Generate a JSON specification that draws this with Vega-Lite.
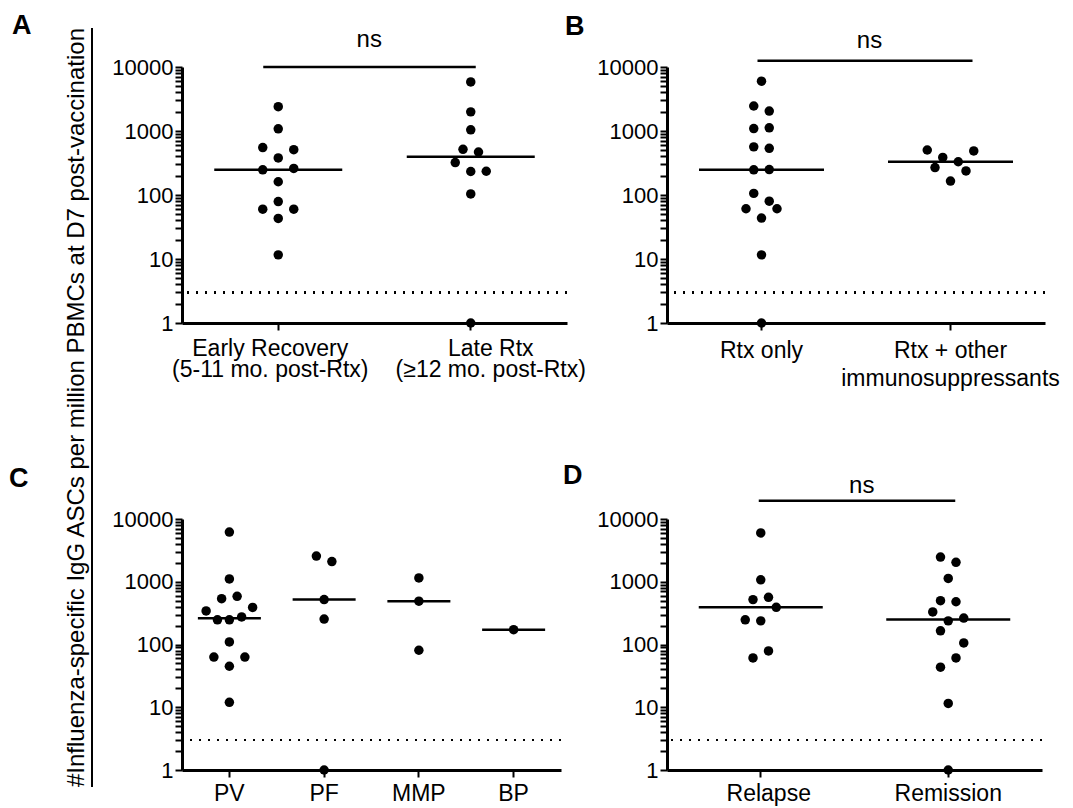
{
  "$schema": "https://vega.github.io/schema/vega-lite/v6.json",
  "background": "white",
  "padding": {"left": 9, "top": 12, "right": 0, "bottom": 0},
  "bounds": "flush",
  "columns": 3,
  "spacing": {"row": 0, "column": 100},
  "resolve": {"scale": {"xOffset": "independent"}},
  "config": {
    "view": {"stroke": null},
    "font": "Liberation Sans",
    "axis": {
      "domainColor": "black",
      "domainWidth": 3,
      "tickColor": "black",
      "tickWidth": 2,
      "labelColor": "black",
      "labelFontSize": 22,
      "labelFont": "Liberation Sans",
      "labelLimit": 0,
      "grid": false,
      "title": null
    },
    "title": {"anchor": "start", "frame": "group", "fontSize": 27, "fontWeight": "bold", "font": "Liberation Sans", "color": "black", "baseline": "alphabetic"}
  },
  "concat": [
    {
      "width": 1,
      "height": 452,
      "data": {"values": [{"v": 0}, {"v": 1}]},
      "mark": {"type": "point", "opacity": 0},
      "encoding": {
        "y": {
          "field": "v",
          "type": "quantitative",
          "axis": {
            "title": "#Influenza-specific IgG ASCs per million PBMCs at D7 post-vaccination",
            "titleFont": "Liberation Sans",
            "titleFontSize": 24,
            "titleFontWeight": "normal",
            "titleColor": "black",
            "titleAngle": -90,
            "titleX": -8,
            "titleY": 379.5,
            "titleBaseline": "alphabetic",
            "titleAlign": "center",
            "domainWidth": 2,
            "ticks": false,
            "labels": false,
            "offset": -50,
            "translate": -39
          }
        }
      }
    },
    {
      "title": {"text": "A", "dx": -170, "offset": -12},
      "width": 385,
      "height": 256,
      "layer": [
        {
          "data": {"values": [
            {"g": "Early Recovery|(5-11 mo. post-Rtx)", "v": 2400, "j": 0},
            {"g": "Early Recovery|(5-11 mo. post-Rtx)", "v": 1080, "j": 0},
            {"g": "Early Recovery|(5-11 mo. post-Rtx)", "v": 550, "j": -1},
            {"g": "Early Recovery|(5-11 mo. post-Rtx)", "v": 510, "j": 1},
            {"g": "Early Recovery|(5-11 mo. post-Rtx)", "v": 380, "j": 0},
            {"g": "Early Recovery|(5-11 mo. post-Rtx)", "v": 247, "j": -1},
            {"g": "Early Recovery|(5-11 mo. post-Rtx)", "v": 260, "j": 1},
            {"g": "Early Recovery|(5-11 mo. post-Rtx)", "v": 161, "j": 0},
            {"g": "Early Recovery|(5-11 mo. post-Rtx)", "v": 79, "j": 0},
            {"g": "Early Recovery|(5-11 mo. post-Rtx)", "v": 60, "j": -1},
            {"g": "Early Recovery|(5-11 mo. post-Rtx)", "v": 60, "j": 1},
            {"g": "Early Recovery|(5-11 mo. post-Rtx)", "v": 43, "j": 0},
            {"g": "Early Recovery|(5-11 mo. post-Rtx)", "v": 11.6, "j": 0},
            {"g": "Late Rtx|(≥12 mo. post-Rtx)", "v": 5850, "j": 0},
            {"g": "Late Rtx|(≥12 mo. post-Rtx)", "v": 1990, "j": 0},
            {"g": "Late Rtx|(≥12 mo. post-Rtx)", "v": 1045, "j": 0},
            {"g": "Late Rtx|(≥12 mo. post-Rtx)", "v": 517, "j": -0.5},
            {"g": "Late Rtx|(≥12 mo. post-Rtx)", "v": 470, "j": 0.5},
            {"g": "Late Rtx|(≥12 mo. post-Rtx)", "v": 321, "j": -1},
            {"g": "Late Rtx|(≥12 mo. post-Rtx)", "v": 233, "j": 0},
            {"g": "Late Rtx|(≥12 mo. post-Rtx)", "v": 235, "j": 1},
            {"g": "Late Rtx|(≥12 mo. post-Rtx)", "v": 104, "j": 0},
            {"g": "Late Rtx|(≥12 mo. post-Rtx)", "v": 1, "j": 0}
          ]},
          "layer": [
            {"mark": {"type": "rule", "strokeDash": [2, 7], "strokeWidth": 2, "color": "black"}, "encoding": {"y": {"datum": 3, "type": "quantitative"}}},
            {"mark": {"type": "circle", "size": 90, "opacity": 1, "color": "black"},
              "encoding": {
                "x": {"field": "g", "type": "nominal", "sort": null,
                  "scale": {"type": "band", "domain": ["Early Recovery|(5-11 mo. post-Rtx)", "Late Rtx|(≥12 mo. post-Rtx)"], "paddingInner": 0, "paddingOuter": 0},
                  "axis": {"labelAngle": 0, "tickSize": 7, "labelPadding": 7, "labelFontSize": 23, "labelLineHeight": 21, "labelExpr": "split(datum.label, '|')",
                    "labelOffset": {"condition": {"test": "indexof(datum.value, 'Early') === 0", "value": -8}, "value": 20}}},
                "y": {"field": "v", "type": "quantitative",
                  "scale": {"type": "log", "domain": [1, 10000], "nice": false},
                  "axis": {"values": [1,2,3,4,5,6,7,8,9,10,20,30,40,50,60,70,80,90,100,200,300,400,500,600,700,800,900,1000,2000,3000,4000,5000,6000,7000,8000,9000,10000], "tickSize": 7, "labelPadding": 2, "labelOverlap": false, "labelFlush": false, "labelBound": false, "labelExpr": "indexof([1,10,100,1000,10000], datum.value) >= 0 ? format(datum.value, 'd') : ''"}},
                "xOffset": {"field": "j", "type": "quantitative", "scale": {"domain": [-2, 2], "range": [65.25, 127.25]}}}},
            {"mark": {"type": "tick", "size": 128, "thickness": 2.5, "color": "black"},
              "encoding": {"x": {"field": "g", "type": "nominal", "sort": null}, "y": {"aggregate": "median", "field": "v", "type": "quantitative"}}}
          ]
        },
        {"data": {"values": [{"a": "Early Recovery|(5-11 mo. post-Rtx)", "b": "Late Rtx|(≥12 mo. post-Rtx)", "t": "ns"}]},
          "layer": [
            {"mark": {"type": "rule", "strokeWidth": 2.5, "color": "black", "xOffset": -15, "x2Offset": 5},
              "encoding": {"x": {"field": "a", "type": "nominal", "sort": null}, "x2": {"field": "b"}, "y": {"datum": 10000, "type": "quantitative"}}},
            {"mark": {"type": "text", "fontSize": 24, "color": "black", "dx": 91, "baseline": "alphabetic", "align": "center"},
              "encoding": {"x": {"field": "a", "type": "nominal", "sort": null}, "y": {"datum": 20400, "type": "quantitative"}, "text": {"field": "t", "type": "nominal"}}}
          ]
        }
      ]
    },
    {
      "title": {"text": "B", "dx": -102, "offset": -12},
      "width": 378,
      "height": 256,
      "layer": [
        {
          "data": {"values": [
            {"g": "Rtx only", "v": 6000, "j": 0},
            {"g": "Rtx only", "v": 2460, "j": -0.5},
            {"g": "Rtx only", "v": 2050, "j": 0.5},
            {"g": "Rtx only", "v": 1090, "j": -0.5},
            {"g": "Rtx only", "v": 1120, "j": 0.5},
            {"g": "Rtx only", "v": 565, "j": -0.5},
            {"g": "Rtx only", "v": 537, "j": 0.5},
            {"g": "Rtx only", "v": 247, "j": -0.5},
            {"g": "Rtx only", "v": 250, "j": 0.5},
            {"g": "Rtx only", "v": 106, "j": -0.5},
            {"g": "Rtx only", "v": 80, "j": 0.5},
            {"g": "Rtx only", "v": 61, "j": -1},
            {"g": "Rtx only", "v": 61, "j": 1},
            {"g": "Rtx only", "v": 43.6, "j": 0},
            {"g": "Rtx only", "v": 11.6, "j": 0},
            {"g": "Rtx only", "v": 1, "j": 0},
            {"g": "Rtx + other|immunosuppressants", "v": 505, "j": -1.5},
            {"g": "Rtx + other|immunosuppressants", "v": 386, "j": -0.5},
            {"g": "Rtx + other|immunosuppressants", "v": 268, "j": -1},
            {"g": "Rtx + other|immunosuppressants", "v": 331, "j": 0.5},
            {"g": "Rtx + other|immunosuppressants", "v": 238, "j": 1},
            {"g": "Rtx + other|immunosuppressants", "v": 488, "j": 1.5},
            {"g": "Rtx + other|immunosuppressants", "v": 165, "j": 0}
          ]},
          "layer": [
            {"mark": {"type": "rule", "strokeDash": [2, 7], "strokeWidth": 2, "color": "black"}, "encoding": {"y": {"datum": 3, "type": "quantitative"}}},
            {"mark": {"type": "circle", "size": 90, "opacity": 1, "color": "black"},
              "encoding": {
                "x": {"field": "g", "type": "nominal", "sort": null,
                  "scale": {"type": "band", "domain": ["Rtx only", "Rtx + other|immunosuppressants"], "paddingInner": 0, "paddingOuter": 0},
                  "axis": {"labelAngle": 0, "tickSize": 7, "labelPadding": 9, "labelFontSize": 23, "labelLineHeight": 28, "labelExpr": "split(datum.label, '|')"}},
                "y": {"field": "v", "type": "quantitative",
                  "scale": {"type": "log", "domain": [1, 10000], "nice": false},
                  "axis": {"values": [1,2,3,4,5,6,7,8,9,10,20,30,40,50,60,70,80,90,100,200,300,400,500,600,700,800,900,1000,2000,3000,4000,5000,6000,7000,8000,9000,10000], "tickSize": 7, "labelPadding": 2, "labelOverlap": false, "labelFlush": false, "labelBound": false, "labelExpr": "indexof([1,10,100,1000,10000], datum.value) >= 0 ? format(datum.value, 'd') : ''"}},
                "xOffset": {"field": "j", "type": "quantitative", "scale": {"domain": [-2, 2], "range": [63.5, 125.5]}}}},
            {"mark": {"type": "tick", "size": 125, "thickness": 2.5, "color": "black"},
              "encoding": {"x": {"field": "g", "type": "nominal", "sort": null}, "y": {"aggregate": "median", "field": "v", "type": "quantitative"}}}
          ]
        },
        {"data": {"values": [{"a": "Rtx only", "b": "Rtx + other|immunosuppressants", "t": "ns"}]},
          "layer": [
            {"mark": {"type": "rule", "strokeWidth": 2.5, "color": "black", "xOffset": -4, "x2Offset": 22},
              "encoding": {"x": {"field": "a", "type": "nominal", "sort": null}, "x2": {"field": "b"}, "y": {"datum": 12540, "type": "quantitative"}}},
            {"mark": {"type": "text", "fontSize": 24, "color": "black", "dx": 108, "baseline": "alphabetic", "align": "center"},
              "encoding": {"x": {"field": "a", "type": "nominal", "sort": null}, "y": {"datum": 19800, "type": "quantitative"}, "text": {"field": "t", "type": "nominal"}}}
          ]
        }
      ]
    },
    {
      "width": 1,
      "height": 307,
      "data": {"values": [{"v": 0}, {"v": 1}]},
      "mark": {"type": "point", "opacity": 0},
      "encoding": {
        "y": {
          "field": "v",
          "type": "quantitative",
          "axis": {
            "title": null,
            "domainWidth": 2,
            "ticks": false,
            "labels": false,
            "offset": -50,
            "translate": -39
          }
        }
      }
    },
    {
      "title": {"text": "C", "dx": -173, "offset": 15},
      "width": 379,
      "height": 251,
      "data": {"values": [
        {"g": "PV", "v": 6200, "j": 0},
        {"g": "PV", "v": 1110, "j": 0},
        {"g": "PV", "v": 537, "j": -0.5},
        {"g": "PV", "v": 585, "j": 0.5},
        {"g": "PV", "v": 343, "j": -1.5},
        {"g": "PV", "v": 390, "j": 1.5},
        {"g": "PV", "v": 247, "j": -0.77},
        {"g": "PV", "v": 247, "j": 0},
        {"g": "PV", "v": 275, "j": 0.79},
        {"g": "PV", "v": 110, "j": 0},
        {"g": "PV", "v": 63, "j": -1},
        {"g": "PV", "v": 63, "j": 1},
        {"g": "PV", "v": 45, "j": 0},
        {"g": "PV", "v": 12, "j": 0},
        {"g": "PF", "v": 2570, "j": -0.5},
        {"g": "PF", "v": 2100, "j": 0.5},
        {"g": "PF", "v": 520, "j": 0},
        {"g": "PF", "v": 254, "j": 0},
        {"g": "PF", "v": 1, "j": 0},
        {"g": "MMP", "v": 1150, "j": 0},
        {"g": "MMP", "v": 490, "j": 0},
        {"g": "MMP", "v": 81, "j": 0},
        {"g": "BP", "v": 172, "j": 0}
      ]},
      "layer": [
        {"mark": {"type": "rule", "strokeDash": [2, 7], "strokeWidth": 2, "color": "black"}, "encoding": {"y": {"datum": 3, "type": "quantitative"}}},
        {"mark": {"type": "circle", "size": 90, "opacity": 1, "color": "black"},
          "encoding": {
            "x": {"field": "g", "type": "nominal", "sort": null,
              "scale": {"type": "band", "domain": ["PV", "PF", "MMP", "BP"], "paddingInner": 0, "paddingOuter": 0},
              "axis": {"labelAngle": 0, "tickSize": 7, "labelPadding": 5, "labelFontSize": 23}},
            "y": {"field": "v", "type": "quantitative",
              "scale": {"type": "log", "domain": [1, 10000], "nice": false},
              "axis": {"values": [1,2,3,4,5,6,7,8,9,10,20,30,40,50,60,70,80,90,100,200,300,400,500,600,700,800,900,1000,2000,3000,4000,5000,6000,7000,8000,9000,10000], "tickSize": 7, "labelPadding": 2, "labelOverlap": false, "labelFlush": false, "labelBound": false, "labelExpr": "indexof([1,10,100,1000,10000], datum.value) >= 0 ? format(datum.value, 'd') : ''"}},
            "xOffset": {"field": "j", "type": "quantitative", "scale": {"domain": [-2, 2], "range": [16.375, 78.375]}}}},
        {"mark": {"type": "tick", "size": 63, "thickness": 2.5, "color": "black"},
          "encoding": {"x": {"field": "g", "type": "nominal", "sort": null}, "y": {"aggregate": "median", "field": "v", "type": "quantitative"}}}
      ]
    },
    {
      "title": {"text": "D", "dx": -104, "offset": -16},
      "width": 375,
      "height": 251,
      "layer": [
        {
          "data": {"values": [
            {"g": "Relapse", "v": 6000, "j": 0},
            {"g": "Relapse", "v": 1075, "j": 0},
            {"g": "Relapse", "v": 519, "j": -0.5},
            {"g": "Relapse", "v": 565, "j": 0.5},
            {"g": "Relapse", "v": 391, "j": 1},
            {"g": "Relapse", "v": 247, "j": -1},
            {"g": "Relapse", "v": 238, "j": 0},
            {"g": "Relapse", "v": 79, "j": 0.5},
            {"g": "Relapse", "v": 61, "j": -0.5},
            {"g": "Remission", "v": 2470, "j": -0.5},
            {"g": "Remission", "v": 2040, "j": 0.5},
            {"g": "Remission", "v": 1130, "j": 0},
            {"g": "Remission", "v": 500, "j": -0.5},
            {"g": "Remission", "v": 480, "j": 0.5},
            {"g": "Remission", "v": 330, "j": -1},
            {"g": "Remission", "v": 238, "j": 0},
            {"g": "Remission", "v": 264, "j": 1},
            {"g": "Remission", "v": 165, "j": -0.5},
            {"g": "Remission", "v": 106, "j": 1},
            {"g": "Remission", "v": 61, "j": 0.5},
            {"g": "Remission", "v": 43.5, "j": -0.5},
            {"g": "Remission", "v": 11.5, "j": 0},
            {"g": "Remission", "v": 1, "j": 0}
          ]},
          "layer": [
            {"mark": {"type": "rule", "strokeDash": [2, 7], "strokeWidth": 2, "color": "black"}, "encoding": {"y": {"datum": 3, "type": "quantitative"}}},
            {"mark": {"type": "circle", "size": 90, "opacity": 1, "color": "black"},
              "encoding": {
                "x": {"field": "g", "type": "nominal", "sort": null,
                  "scale": {"type": "band", "domain": ["Relapse", "Remission"], "paddingInner": 0, "paddingOuter": 0},
                  "axis": {"labelAngle": 0, "tickSize": 7, "labelPadding": 5, "labelFontSize": 23,
                    "labelOffset": {"condition": {"test": "datum.value === 'Relapse'", "value": 8}, "value": 0}}},
                "y": {"field": "v", "type": "quantitative",
                  "scale": {"type": "log", "domain": [1, 10000], "nice": false},
                  "axis": {"values": [1,2,3,4,5,6,7,8,9,10,20,30,40,50,60,70,80,90,100,200,300,400,500,600,700,800,900,1000,2000,3000,4000,5000,6000,7000,8000,9000,10000], "tickSize": 7, "labelPadding": 2, "labelOverlap": false, "labelFlush": false, "labelBound": false, "labelExpr": "indexof([1,10,100,1000,10000], datum.value) >= 0 ? format(datum.value, 'd') : ''"}},
                "xOffset": {"field": "j", "type": "quantitative", "scale": {"domain": [-2, 2], "range": [62.75, 124.75]}}}},
            {"mark": {"type": "tick", "size": 124, "thickness": 2.5, "color": "black"},
              "encoding": {"x": {"field": "g", "type": "nominal", "sort": null}, "y": {"aggregate": "median", "field": "v", "type": "quantitative"}}}
          ]
        },
        {"data": {"values": [{"a": "Relapse", "b": "Remission", "t": "ns"}]},
          "layer": [
            {"mark": {"type": "rule", "strokeWidth": 2.5, "color": "black", "xOffset": -2, "x2Offset": 7},
              "encoding": {"x": {"field": "a", "type": "nominal", "sort": null}, "x2": {"field": "b"}, "y": {"datum": 19600, "type": "quantitative"}}},
            {"mark": {"type": "text", "fontSize": 24, "color": "black", "dx": 101, "baseline": "alphabetic", "align": "center"},
              "encoding": {"x": {"field": "a", "type": "nominal", "sort": null}, "y": {"datum": 26000, "type": "quantitative"}, "text": {"field": "t", "type": "nominal"}}}
          ]
        }
      ]
    }
  ]
}
